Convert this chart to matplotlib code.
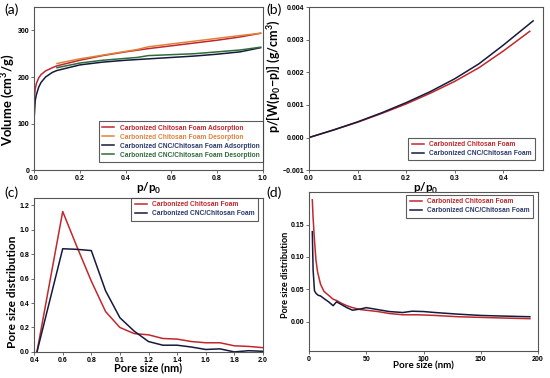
import matplotlib.pyplot as plt
import numpy as np

plt.rcParams['font.family'] = ['Liberation Sans', 'DejaVu Sans']
plt.rcParams['font.weight'] = 'bold'
plt.rcParams['mathtext.fontset'] = 'custom'
plt.rcParams['mathtext.rm'] = 'Lato:bold'
plt.rcParams['mathtext.bf'] = 'Lato:bold'

RED = '#c0282d'
ORANGE = '#e0823c'
NAVY = '#151a3c'
GREEN = '#2e6b3a'
NAVY_TXT = '#2a3a6a'
LABEL_FONT = ['Lato', 'DejaVu Sans']

# (a) isotherms
a_x_ads = [0.0, 0.005, 0.01, 0.02, 0.03, 0.05, 0.08, 0.1, 0.2, 0.3, 0.4, 0.5, 0.6, 0.7, 0.8, 0.9, 0.99]
a_red_ads = [150, 175, 186, 198, 205, 213, 220, 224, 236, 246, 254, 261, 267, 273, 279, 286, 294]
a_navy_ads = [110, 150, 162, 178, 188, 200, 210, 214, 226, 232, 236, 239, 242, 245, 249, 254, 263]
a_x_des = [0.1, 0.2, 0.3, 0.4, 0.45, 0.5, 0.6, 0.7, 0.8, 0.9, 0.99]
a_orange_des = [229, 239, 247, 255, 259, 265, 271, 277, 283, 289, 294]
a_green_des = [220, 230, 236, 240, 242, 246, 248, 250, 254, 258, 264]

# (b) BET plot
b_x_red = [0.0, 0.05, 0.1, 0.15, 0.2, 0.25, 0.3, 0.35, 0.4, 0.455]
b_red = [0.0, 0.00023, 0.00047, 0.00074, 0.00103, 0.00136, 0.00172, 0.00214, 0.00265, 0.00326]
b_x_navy = [0.0, 0.05, 0.1, 0.15, 0.2, 0.25, 0.3, 0.35, 0.4, 0.462]
b_navy = [0.0, 0.00023, 0.00048, 0.00076, 0.00107, 0.00141, 0.00180, 0.00226, 0.00283, 0.00358]

# (c) micropore distribution
c_x = [0.42, 0.6, 0.7, 0.8, 0.9, 1.0, 1.1, 1.2, 1.3, 1.4, 1.5, 1.6, 1.7, 1.8, 1.9, 2.0]
c_red = [0.0, 1.15, 0.86, 0.58, 0.33, 0.2, 0.15, 0.14, 0.11, 0.105, 0.085, 0.075, 0.075, 0.05, 0.045, 0.035]
c_navy = [0.0, 0.845, 0.84, 0.83, 0.5, 0.28, 0.17, 0.085, 0.055, 0.055, 0.04, 0.02, 0.025, 0.0, 0.01, 0.005]
c_ticks = [0.4, 0.6, 0.8, 1.0, 1.2, 1.4, 1.6, 1.8, 2.0]
c_ticklabels = ['0.4', '0.6', '0.8', '0.1', '1.2', '1.4', '1.6', '1.8', '2.0']

# (d) mesopore distribution
d_x_red = [2.8, 3.5, 4.7, 6, 7.4, 10, 13, 17, 21, 24, 28, 33, 38, 45, 50, 60, 70, 82, 95, 110, 130, 150, 170, 193]
d_red = [0.188, 0.16, 0.126, 0.095, 0.077, 0.058, 0.047, 0.041, 0.035, 0.033, 0.029, 0.025, 0.022, 0.019, 0.018, 0.016, 0.013, 0.011, 0.011, 0.010, 0.008, 0.007, 0.006, 0.005]
d_x_navy = [2.8, 3.5, 4.7, 6, 8, 10, 13, 17, 21, 24, 28, 33, 38, 45, 50, 60, 70, 82, 90, 100, 110, 130, 150, 170, 193]
d_navy = [0.139, 0.08, 0.048, 0.044, 0.041, 0.040, 0.036, 0.031, 0.025, 0.031, 0.027, 0.022, 0.018, 0.020, 0.022, 0.019, 0.016, 0.0145, 0.0165, 0.016, 0.0145, 0.012, 0.010, 0.009, 0.008]

fig = plt.figure(figsize=(5.5, 3.78), dpi=100)
axa = fig.add_axes([0.062, 0.550, 0.416, 0.431])
axb = fig.add_axes([0.562, 0.550, 0.425, 0.431])
axc = fig.add_axes([0.062, 0.069, 0.416, 0.407])
axd = fig.add_axes([0.562, 0.071, 0.416, 0.421])

def style(ax):
    for s in ax.spines.values():
        s.set_color('#555555')
        s.set_linewidth(0.8)
    ax.tick_params(labelsize=5, length=2, width=0.6, color='#555555', pad=1.5)
    for lab in ax.get_xticklabels() + ax.get_yticklabels():
        lab.set_fontweight('bold')

def labels(ax, xl, yl, xs, ys, ycoords):
    ax.set_xlabel(xl, fontsize=xs, fontweight='bold', family=LABEL_FONT, labelpad=-1)
    ax.set_ylabel(yl, fontsize=ys, fontweight='bold', family=LABEL_FONT)
    ax.yaxis.set_label_coords(*ycoords)

def legend(ax, loc, colors, anchor):
    leg = ax.legend(loc=loc, fontsize=4.8, frameon=True, fancybox=False,
                    edgecolor='#333333', handlelength=1.8, borderpad=0.5,
                    labelspacing=0.3, handletextpad=0.8, borderaxespad=0,
                    bbox_to_anchor=anchor)
    leg.get_frame().set_linewidth(0.8)
    for t, c in zip(leg.get_texts(), colors):
        t.set_color(c)
        t.set_fontweight('bold')

lw = 1.1
axa.plot(a_x_ads, a_red_ads, color=RED, lw=lw, label='Carbonized Chitosan Foam Adsorption')
axa.plot(a_x_des, a_orange_des, color=ORANGE, lw=lw, label='Carbonized Chitosan Foam Desorption')
axa.plot(a_x_ads, a_navy_ads, color=NAVY, lw=lw, label='Carbonized CNC/Chitosan Foam Adsorption')
axa.plot(a_x_des, a_green_des, color=GREEN, lw=lw, label='Carbonized CNC/Chitosan Foam Desorption')
axa.set_xlim(0, 1.0)
axa.set_ylim(0, 350)
axa.set_yticks([0, 100, 200, 300])
axa.set_xticks([0.0, 0.2, 0.4, 0.6, 0.8, 1.0])
labels(axa, 'p/p$_0$', 'Volume (cm$^3$/g)', 8.5, 9.4, (-0.074, 0.43))
style(axa)
legend(axa, 'lower right', [RED, ORANGE, NAVY_TXT, GREEN], (1.0, 0.05))

axb.plot(b_x_red, b_red, color=RED, lw=lw, label='Carbonized Chitosan Foam')
axb.plot(b_x_navy, b_navy, color=NAVY, lw=lw, label='Carbonized CNC/Chitosan Foam')
axb.set_xlim(0, 0.482)
axb.set_ylim(-0.001, 0.004)
axb.set_xticks([0.0, 0.1, 0.2, 0.3, 0.4])
axb.set_yticks([-0.001, 0.0, 0.001, 0.002, 0.003, 0.004])
labels(axb, 'p/p$_0$', 'p/[W(p$_0$\u2212p)] (g/cm$^3$)', 8.5, 9.0, (-0.115, 0.577))
style(axb)
legend(axb, 'lower right', [RED, NAVY_TXT], (0.966, 0.06))

axc.plot(c_x, c_red, color=RED, lw=lw, label='Carbonized Chitosan Foam')
axc.plot(c_x, c_navy, color=NAVY, lw=lw, label='Carbonized CNC/Chitosan Foam')
axc.set_xlim(0.4, 2.0)
axc.set_ylim(0, 1.26)
axc.set_yticks([0.0, 0.2, 0.4, 0.6, 0.8, 1.0, 1.2])
axc.set_xticks(c_ticks)
axc.set_xticklabels(c_ticklabels)
labels(axc, 'Pore size (nm)', 'Pore size distribution', 7.9, 8.6, (-0.07, 0.39))
style(axc)
legend(axc, 'upper right', [RED, NAVY_TXT], (0.978, 1.0))

axd.plot(d_x_red, d_red, color=RED, lw=lw, label='Carbonized Chitosan Foam')
axd.plot(d_x_navy, d_navy, color=NAVY, lw=lw, label='Carbonized CNC/Chitosan Foam')
axd.set_xlim(0, 200)
axd.set_ylim(-0.045, 0.2)
axd.set_yticks([0.0, 0.05, 0.10, 0.15])
axd.set_yticklabels(['0.00', '0.05', '0.10', '0.15'])
axd.set_xticks([0, 50, 100, 150, 200])
labels(axd, 'Pore size (nm)', 'Pore size distribution', 7.0, 6.6, (-0.083, 0.48))
style(axd)
legend(axd, 'upper right', [RED, NAVY_TXT], (0.978, 0.981))

for x, y, t in [(0.008, 0.962, '(a)'), (0.484, 0.962, '(b)'),
                (0.008, 0.478, '(c)'), (0.484, 0.478, '(d)')]:
    fig.text(x, y, t, fontsize=10, fontweight='normal', family=LABEL_FONT)

fig.savefig('out.png', dpi=100)
